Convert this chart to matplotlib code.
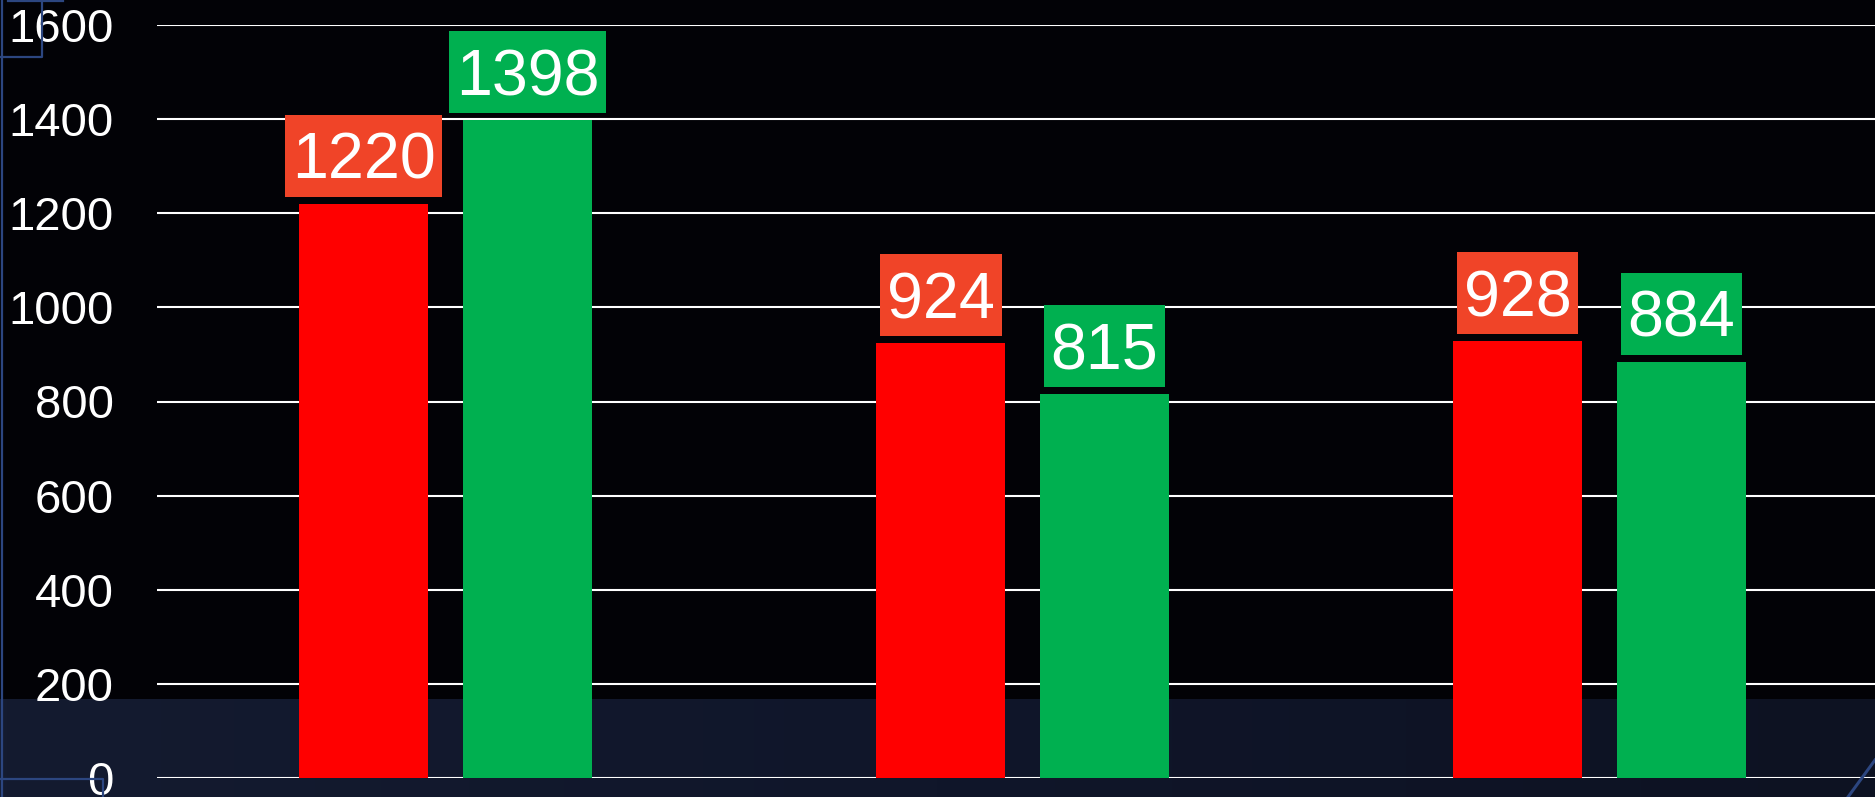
import numpy as np
import matplotlib
matplotlib.use('Agg')
import matplotlib.pyplot as plt
from matplotlib.patches import Rectangle
from matplotlib.lines import Line2D
from matplotlib.colors import LinearSegmentedColormap
from matplotlib.transforms import IdentityTransform

# data
categories = ['A', 'B', 'C']
red_values = [1220, 924, 928]
green_values = [1398, 815, 884]
y_ticks = [0, 200, 400, 600, 800, 1000, 1200, 1400, 1600]

plt.rcParams['font.family'] = ['Liberation Sans', 'DejaVu Sans']

W, H = 1875, 797
fig = plt.figure(figsize=(W / 100, H / 100), dpi=100)
fig.patch.set_facecolor('#020206')

# dark blue band at the bottom of the slide, slightly lighter on the left
band_top = 1 - 699 / H
bg = fig.add_axes([0, 0, 1, band_top])
bg.set_axis_off()
band_cmap = LinearSegmentedColormap.from_list('band', ['#141b30', '#10162a', '#0d1222'])
bg.imshow(np.linspace(0, 1, 256)[None, :], aspect='auto', cmap=band_cmap,
          extent=[0, 1, 0, 1])
bg.set_zorder(0)

# slide frame decorations
deco = '#2c4680'
def fig_line(xs, ys, lw=1.6):
    fig.add_artist(Line2D([x / W for x in xs], [1 - y / H for y in ys],
                          transform=fig.transFigure, color=deco, lw=lw, zorder=5))

fig_line([2, 2], [0, 797])
fig_line([0, 42, 42], [57, 57, 0])
fig_line([8, 63], [1, 1])
fig_line([0, 103, 103], [779, 779, 797])
fig_line([1875, 1848], [760, 797], lw=2.2)

left = 157 / W
right = 1888 / W
bottom = 1 - 778 / H
top = 1 - 25 / H
ax = fig.add_axes([left, bottom, right - left, top - bottom])
ax.set_facecolor('none')
ax.set_zorder(2)

x = np.arange(len(categories))
width = 0.2236
offset = 0.142

red_bars = ax.bar(x - offset, red_values, width, color='#ff0000', zorder=3)
green_bars = ax.bar(x + offset, green_values, width, color='#00b050', zorder=3)

ax.set_xlim(-0.5, 2.5)
ax.set_ylim(0, 1600)
ax.set_yticks(y_ticks)
ax.set_xticks([])
ax.yaxis.grid(True, color='white', linewidth=1.5, zorder=1)
ax.set_axisbelow(True)
ax.tick_params(axis='y', length=0, pad=31, labelsize=34, labelcolor='white')
for s in ax.spines.values():
    s.set_visible(False)

# value labels: white text on a coloured box sitting just above each bar
labels = []
def label_bars(bars, values, box_color):
    for bar, v in zip(bars, values):
        t = ax.annotate(str(v), (bar.get_x() + bar.get_width() / 2, v),
                        xytext=(0, 18), textcoords='offset points',
                        ha='center', va='baseline', fontsize=46.5, color='white',
                        zorder=6, annotation_clip=False)
        labels.append((t, v, box_color))


label_bars(red_bars, red_values, '#f04428')
label_bars(green_bars, green_values, '#00b050')

fig.canvas.draw()
renderer = fig.canvas.get_renderer()
for t, v, box_color in labels:
    ext = t.get_window_extent(renderer)
    bar_top = ax.transData.transform((0, v))[1]
    ax.add_patch(Rectangle((ext.x0 - 7, bar_top + 7), ext.width + 14, 82,
                           transform=IdentityTransform(), facecolor=box_color,
                           edgecolor='none', zorder=5, clip_on=False))

fig.savefig('out.png', dpi=100, facecolor=fig.get_facecolor())
